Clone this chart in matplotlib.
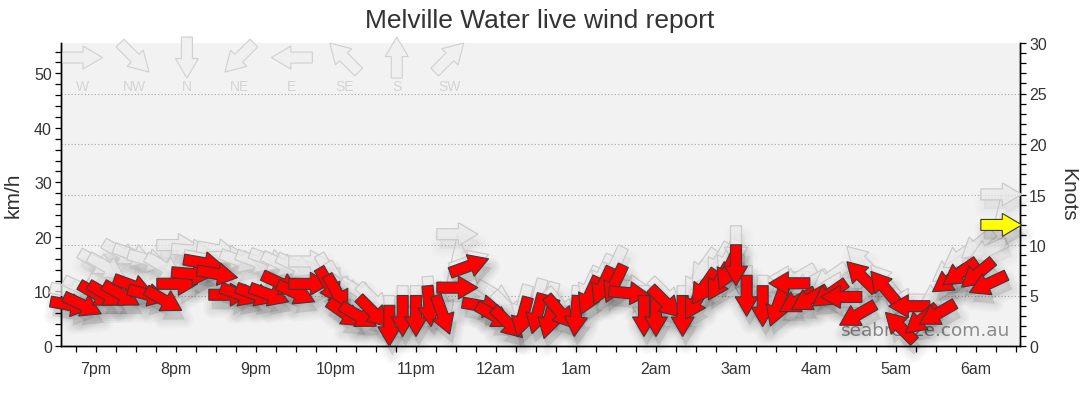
import matplotlib

matplotlib.use("Agg")
import matplotlib.pyplot as plt
from matplotlib.patches import Polygon
from matplotlib.ticker import MultipleLocator
from matplotlib.transforms import Affine2D, ScaledTranslation

KMH_PER_KNOT = 1.852

# observation times (local), average wind, gust (km/h) and direction the wind comes from (deg)
OBS_TIMES = [
    "18:41", "18:50", "19:01", "19:08", "19:19", "19:28", "19:39", "19:51",
    "20:01", "20:12", "20:21", "20:31", "20:40", "20:48", "21:00", "21:10",
    "21:19", "21:30", "21:40", "21:55", "22:01", "22:07", "22:17", "22:28",
    "22:40", "22:50", "23:00", "23:10", "23:20", "23:31", "23:40", "23:50",
    "23:59", "00:09", "00:20", "00:31", "00:40", "00:48", "01:00", "01:10",
    "01:20", "01:29", "01:40", "01:51", "02:00", "02:07", "02:20", "02:30",
    "02:36", "02:47", "02:54", "03:00", "03:08", "03:20", "03:31", "03:40",
    "03:46", "03:55", "04:10", "04:19", "04:31", "04:34", "04:51", "05:03",
    "05:10", "05:19", "05:31", "05:40", "05:48", "06:01", "06:09", "06:19",
]
AVG_KMH = [
    7.5, 7.5, 9.4, 9.4, 9.4, 11.0, 9.4, 8.4,
    11.4, 13.2, 15.2, 13.2, 9.4, 9.4, 9.4, 9.4,
    11.4, 9.7, 11.4, 11.0, 9.7, 5.9, 5.5, 6.2,
    3.7, 5.5, 5.5, 7.3, 5.7, 10.7, 14.7, 7.3,
    5.5, 4.2, 5.3, 5.9, 5.0, 6.2, 5.5, 9.2,
    11.0, 11.4, 9.7, 5.5, 5.5, 8.0, 5.5, 8.2,
    10.8, 11.7, 13.8, 14.8, 9.2, 7.3, 7.2, 11.5,
    8.2, 8.6, 9.5, 9.0, 5.7, 12.8, 10.8, 3.5,
    7.3, 4.8, 5.9, 12.1, 13.4, 13.2, 11.4, 22.2,
]
GUST_KMH = [
    10.0, 10.5, 15.2, 14.5, 17.0, 16.7, 15.8, 14.5,
    18.5, 17.5, 16.0, 17.6, 16.3, 15.6, 15.5, 15.8,
    15.0, 14.7, 15.5, 13.5, 12.0, 10.5, 10.0, 8.5,
    5.5, 7.3, 7.3, 9.0, 8.0, 20.5, 15.5, 9.0,
    9.5, 7.0, 7.5, 8.6, 8.0, 7.5, 7.3, 11.0,
    13.2, 14.7, 11.0, 7.3, 7.3, 9.5, 7.3, 12.0,
    14.5, 15.5, 16.0, 18.3, 11.0, 9.2, 9.5, 12.6,
    12.5, 11.5, 12.5, 11.5, 9.0, 15.6, 12.0, 6.5,
    8.5, 7.0, 9.5, 14.0, 16.5, 18.5, 17.5, 27.8,
]
DIR_FROM = [
    280, 295, 300, 300, 300, 290, 285, 300,
    270, 275, 280, 280, 270, 290, 290, 290,
    295, 295, 270, 330, 330, 305, 300, 315,
    0, 0, 0, 355, 340, 270, 250, 280,
    300, 315, 15, 15, 15, 320, 5, 25,
    25, 25, 275, 0, 0, 315, 0, 30,
    35, 30, 25, 0, 0, 0, 20, 90,
    60, 60, 55, 90, 60, 135, 140, 135,
    90, 50, 60, 55, 55, 50, 65, 270,
]

HOUR_TICKS = list(range(19, 31))
HOUR_LABELS = ["7pm", "8pm", "9pm", "10pm", "11pm", "12am",
               "1am", "2am", "3am", "4am", "5am", "6am"]

LEGEND_NAMES = ["W", "NW", "N", "NE", "E", "SE", "S", "SW"]
LEGEND_FROM = [270, 315, 0, 45, 90, 135, 180, 225]

# arrow outline in screen pixels, pointing along +x, centred on the reading
ARROW = [(-20.5, -5.5), (1, -5.5), (1, -11.5), (20.5, 0), (1, 11.5), (1, 5.5), (-20.5, 5.5)]


def to_hours(stamp: str) -> float:
    h, m = (int(v) for v in stamp.split(":"))
    if h < 12:
        h += 24
    return h + m / 60.0


def draw_arrow(ax, x, y, from_deg, face, edge, z, base=None, shadow=0.0, lw=0.8):
    base = base if base is not None else ax.transData
    ang = -90.0 - from_deg
    anchor = ScaledTranslation(x, y, base)
    if shadow > 0:
        # soft drop shadow: stacked translucent copies with widening strokes
        for k in range(5):
            ax.add_patch(Polygon(
                ARROW, closed=True, facecolor=(0, 0, 0, shadow), edgecolor=(0, 0, 0, shadow),
                lw=1.5 + 2.8 * k, joinstyle="round",
                transform=Affine2D().rotate_deg(ang).translate(3, -9) + anchor,
                zorder=z - 0.5, clip_on=False,
            ))
    ax.add_patch(Polygon(
        ARROW, closed=True, facecolor=face, edgecolor=edge, lw=lw,
        transform=Affine2D().rotate_deg(ang) + anchor, zorder=z, clip_on=False,
    ))


plt.rcParams["font.family"] = ["Liberation Sans", "DejaVu Sans"]

fig = plt.figure(figsize=(10.8, 4.14), dpi=100)
fig.patch.set_facecolor("white")

ax2 = fig.add_axes([61 / 1080, 67 / 414, 959 / 1080, 303 / 414])
ax = ax2.twinx()
# left axis (km/h) drawn on top, right axis (knots) behind carrying the grid
ax.yaxis.set_label_position("left")
ax.yaxis.tick_left()
ax2.yaxis.set_label_position("right")
ax2.yaxis.tick_right()
ax.set_zorder(ax2.get_zorder() + 1)
ax.patch.set_visible(False)
ax2.set_facecolor("#f2f2f2")

xmin, xmax = 18.5625, 30.55
ax.set_xlim(xmin, xmax)
ax.set_ylim(0, 30 * KMH_PER_KNOT)
ax2.set_ylim(0, 30)

ax2.set_xticks(HOUR_TICKS)
ax2.set_xticklabels(HOUR_LABELS)
ax2.xaxis.set_minor_locator(MultipleLocator(0.25))
ax.yaxis.set_major_locator(MultipleLocator(10))
ax.yaxis.set_minor_locator(MultipleLocator(2))
ax2.yaxis.set_major_locator(MultipleLocator(5))
ax2.yaxis.set_minor_locator(MultipleLocator(1))

for a in (ax, ax2):
    a.spines["top"].set_visible(False)
    for s in ("left", "right", "bottom"):
        a.spines[s].set_color("black")
        a.spines[s].set_linewidth(1.0)
    a.tick_params(which="both", direction="out", length=4.5, width=0.9, color="black",
                  labelsize=11.5, labelcolor="#333333", pad=2)
ax.tick_params(axis="x", which="both", bottom=False, labelbottom=False)
ax2.tick_params(axis="x", which="both", pad=6)

for k in ax2.get_yticks():
    if 0 < k < 30:
        ax2.axhline(k, linestyle=(0, (1, 2)), color="#a8a8a8", linewidth=0.8, zorder=0.5)

hours = [to_hours(t) for t in OBS_TIMES]

ax.text(0.9896, 0.053, "seabreeze.com.au", transform=ax.transAxes, ha="right", va="center",
        fontsize=13.3, family="DejaVu Sans", color="#8a8a8a", zorder=1.5)

# gust trace and gust arrows
ax.plot(hours, GUST_KMH, color="#c8c8c8", lw=0.8, zorder=2.8, clip_on=False)
for x, g, d in zip(hours, GUST_KMH, DIR_FROM):
    draw_arrow(ax, x, g, d, face=(0.92, 0.92, 0.92, 0.7), edge="#c8c8c8", z=3, shadow=0.008)

# average wind arrows, latest reading in yellow
last = len(hours) - 1
for i, (x, v, d) in enumerate(zip(hours, AVG_KMH, DIR_FROM)):
    face = "#ffff00" if i == last else "#ff0000"
    draw_arrow(ax, x, v, d, face=face, edge="#3a3a3a", z=5 + (1 if i == last else 0),
               shadow=0.018)

# compass legend along the top
for i, (name, d) in enumerate(zip(LEGEND_NAMES, LEGEND_FROM)):
    lx = 0.0219 + i * 0.0547
    draw_arrow(ax, lx, 0.952, d, face="#f0f0f0", edge="#d0d0d0", z=2, base=ax.transAxes)
    ax.text(lx, 0.858, name, transform=ax.transAxes, ha="center", va="center",
            fontsize=10, color="#d4d4d4", zorder=2)

fig.text(0.5, 1 - 21 / 414, "Melville Water live wind report", ha="center", va="center",
         fontsize=19, color="#333333")
fig.text(13 / 1080, 1 - 195 / 414, "km/h", rotation=90, ha="center", va="center",
         fontsize=15, color="#333333")
fig.text(1068 / 1080, 1 - 195 / 414, "Knots", rotation=270, ha="center", va="center",
         fontsize=15, color="#333333")

fig.savefig("out.png", dpi=100)
